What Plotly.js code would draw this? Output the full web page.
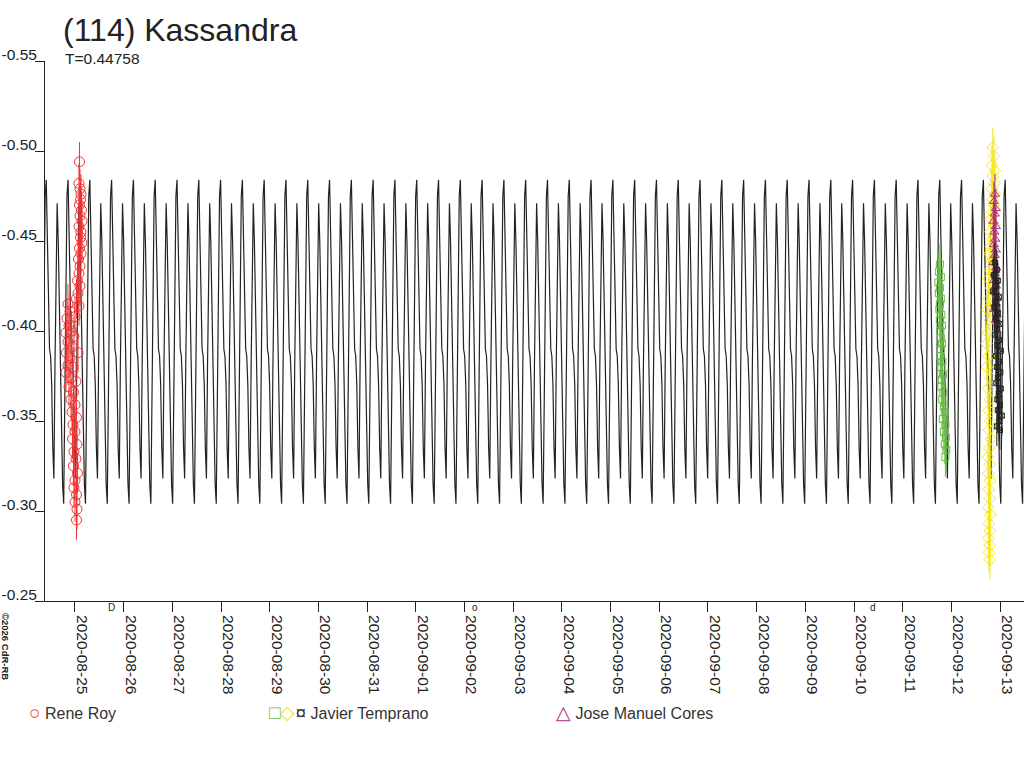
<!doctype html>
<html lang="en">
<head>
    <meta charset="UTF-8">
    <title>(114) Kassandra</title>
    <script src="https://cdn.plot.ly/plotly-3.0.1.min.js"></script>
    <style>
        body { margin: 0; background: #fff; }
        #chart { width: 1024px; height: 768px; }
    </style>
</head>
<body>
    <div id="chart"></div>
    <script>
        // rotation period (days) and model light curve, one period
        const T = 0.44758;
        const modelEpoch = 6.571;   // days after 2020-08-25 0h UT, primary maximum
        const profilePhase = [0, 0.05, 0.10, 0.15, 0.20, 0.25, 0.30, 0.35, 0.40, 0.45,
                              0.50, 0.55, 0.60, 0.65, 0.70, 0.75, 0.80, 0.85, 0.90, 0.95];
        const profileMag = [-0.484, -0.455, -0.410, -0.390, -0.386, -0.370, -0.335, -0.318, -0.380, -0.440,
                            -0.471, -0.450, -0.410, -0.375, -0.340, -0.315, -0.304, -0.360, -0.430, -0.475];

        // observations: days after 2020-08-25 0h UT, relative magnitude
        const rrDay = [0.092, 0.082, 0.103, 0.123, 0.113, 0.092, 0.133, 0.103, 0.144, 0.082,
                       0.123, 0.113, 0.144, 0.092, 0.123, 0.072, 0.103, 0.082, 0.051, 0.103,
                       0.062, 0.031, 0.082, -0.144, -0.103, -0.164, 0.000, -0.123, -0.072, -0.185,
                       -0.021, -0.144, -0.062, -0.175, 0.062, -0.103, -0.144, -0.041, -0.185, -0.082,
                       0.021, -0.123, -0.031, -0.082, 0.000, -0.062, 0.031, -0.041, 0.000, -0.051,
                       0.041, -0.021, 0.021, -0.031, 0.051, 0.000, -0.021, 0.031, 0.000, 0.041, 0.031];
        const rrMag = [-0.494, -0.482, -0.479, -0.476, -0.473, -0.470, -0.467, -0.464, -0.461, -0.458,
                       -0.455, -0.452, -0.449, -0.446, -0.443, -0.440, -0.436, -0.432, -0.428, -0.425,
                       -0.421, -0.418, -0.414, -0.415, -0.411, -0.407, -0.408, -0.403, -0.400, -0.399,
                       -0.397, -0.394, -0.391, -0.388, -0.388, -0.385, -0.381, -0.380, -0.377, -0.374,
                       -0.372, -0.369, -0.366, -0.362, -0.359, -0.355, -0.352, -0.348, -0.344, -0.340,
                       -0.337, -0.333, -0.329, -0.325, -0.321, -0.317, -0.313, -0.309, -0.305, -0.301, -0.295];

        const jtGreenDay = [17.762, 17.741, 17.782, 17.731, 17.762, 17.741, 17.782, 17.762, 17.752, 17.793,
                            17.762, 17.803, 17.772, 17.782, 17.803, 17.782, 17.772, 17.813, 17.793, 17.823,
                            17.803, 17.793, 17.834, 17.813, 17.844, 17.864, 17.823, 17.875, 17.844, 17.885,
                            17.864, 17.895, 17.875];
        const jtGreenMag = [-0.437, -0.433, -0.430, -0.427, -0.424, -0.421, -0.418, -0.415, -0.412, -0.409,
                            -0.406, -0.403, -0.400, -0.396, -0.393, -0.390, -0.386, -0.383, -0.380, -0.376,
                            -0.373, -0.369, -0.366, -0.362, -0.358, -0.355, -0.351, -0.348, -0.344, -0.341,
                            -0.337, -0.334, -0.330];

        const jtYellowDay = [18.850, 18.871, 18.830, 18.891, 18.850, 18.881, 18.830, 18.891, 18.850, 18.871,
                             18.840, 18.809, 18.871, 18.799, 18.850, 18.809, 18.778, 18.830, 18.789, 18.758,
                             18.809, 18.768, 18.737, 18.789, 18.747, 18.717, 18.768, 18.727, 18.809, 18.747,
                             18.789, 18.758, 18.799, 18.768, 18.809, 18.778, 18.747, 18.789, 18.758, 18.799,
                             18.768, 18.789, 18.758, 18.799, 18.768, 18.789, 18.758, 18.789, 18.768, 18.789];
        const jtYellowMag = [-0.502, -0.497, -0.492, -0.489, -0.486, -0.482, -0.479, -0.476, -0.473, -0.470,
                             -0.466, -0.462, -0.459, -0.455, -0.451, -0.447, -0.443, -0.439, -0.434, -0.429,
                             -0.424, -0.418, -0.412, -0.406, -0.399, -0.393, -0.386, -0.380, -0.374, -0.368,
                             -0.362, -0.356, -0.350, -0.345, -0.340, -0.335, -0.330, -0.326, -0.321, -0.317,
                             -0.312, -0.307, -0.302, -0.298, -0.293, -0.289, -0.285, -0.281, -0.277, -0.273];

        const jtDarkDay = [18.891, 18.932, 18.871, 18.953, 18.912, 18.850, 18.973, 18.922, 18.881, 18.953,
                           18.912, 18.994, 18.932, 18.891, 18.973, 18.943, 19.014, 18.912, 18.973, 18.932,
                           19.004, 18.953, 18.922, 19.014, 18.973, 18.943, 18.994, 18.953, 19.035, 18.984,
                           18.932, 18.994];
        const jtDarkMag = [-0.438, -0.434, -0.431, -0.428, -0.425, -0.422, -0.419, -0.416, -0.413, -0.410,
                           -0.407, -0.404, -0.401, -0.398, -0.395, -0.392, -0.389, -0.386, -0.383, -0.380,
                           -0.377, -0.374, -0.371, -0.368, -0.365, -0.362, -0.359, -0.356, -0.353, -0.350,
                           -0.347, -0.345];

        const jmcDay = [18.891, 18.871, 18.912, 18.891, 18.860, 18.912, 18.881, 18.901, 18.871, 18.912,
                        18.891, 18.860, 18.922, 18.891, 18.871, 18.912, 18.891, 18.932, 18.901, 18.881,
                        18.932, 18.912];
        const jmcMag = [-0.476, -0.472, -0.468, -0.465, -0.461, -0.458, -0.455, -0.451, -0.448, -0.445,
                        -0.442, -0.438, -0.435, -0.432, -0.428, -0.425, -0.422, -0.418, -0.415, -0.412,
                        -0.409, -0.406];

        const xTickLabels = ['2020-08-25', '2020-08-26', '2020-08-27', '2020-08-28', '2020-08-29',
                             '2020-08-30', '2020-08-31', '2020-09-01', '2020-09-02', '2020-09-03',
                             '2020-09-04', '2020-09-05', '2020-09-06', '2020-09-07', '2020-09-08',
                             '2020-09-09', '2020-09-10', '2020-09-11', '2020-09-12', '2020-09-13'];
        const yTickVals = [-0.55, -0.50, -0.45, -0.40, -0.35, -0.30, -0.25];
        const yTickText = ['-0.55', '-0.50', '-0.45', '-0.40', '-0.35', '-0.30', '-0.25'];

        // moon phases (days after 2020-08-25 0h UT)
        const moonDay = [0.749, 8.224, 16.393];
        const moonGlyph = ['D', 'o', 'd'];

        const BASE = Date.UTC(2020, 7, 25);
        const DAY = 86400000;
        const toMs = d => BASE + d * DAY;

        const xStart = -0.62, xEnd = 19.5;

        // tile the one-period profile across the time range
        let modelX = [], modelY = [];
        let k0 = Math.floor((xStart - modelEpoch) / T) - 1;
        let k1 = Math.ceil((xEnd - modelEpoch) / T) + 1;
        for (let k = k0; k <= k1; k++) {
            for (let i = 0; i < profilePhase.length; i++) {
                let d = modelEpoch + (k + profilePhase[i]) * T;
                if (d < xStart - 0.05 || d > xEnd + 0.05) continue;
                modelX.push(toMs(d));
                modelY.push(profileMag[i]);
            }
        }

        function obsTrace(days, mags, symbol, color, size) {
            return {
                x: days.map(toMs), y: mags, mode: 'markers', type: 'scatter',
                marker: { symbol: symbol, size: size, color: color, line: { color: color, width: 1 } },
                error_y: { type: 'constant', value: 0.011, color: color, thickness: 1, width: 0 },
                showlegend: false, hoverinfo: 'x+y'
            };
        }

        var traces = [
            { x: modelX, y: modelY, mode: 'lines', type: 'scatter',
              line: { color: '#222', width: 1.2 }, showlegend: false, hoverinfo: 'skip' },
            obsTrace(rrDay, rrMag, 'circle-open', '#ee3333', 10),
            obsTrace(jtGreenDay, jtGreenMag, 'square-open', '#66bb44', 7),
            obsTrace(jtYellowDay, jtYellowMag, 'diamond-open', '#f2e61a', 9),
            obsTrace(jmcDay, jmcMag, 'triangle-up-open', '#b0307e', 8),
            obsTrace(jtDarkDay, jtDarkMag, 'square-x-open', '#222', 5)
        ];

        const PL = 45, PT = 61, PW = 979, PH = 540;
        const px = x => (x - PL) / PW;
        const py = y => (PT + PH - y) / PH;

        const glyph = (c, g) => '<span style="color:' + c + ';font-size:19px">' + g + '</span>';

        var annotations = [
            { text: 'T=0.44758', xref: 'paper', yref: 'paper', x: px(63), y: py(58),
              xanchor: 'left', yanchor: 'middle', showarrow: false, font: { size: 15.5, color: '#222' } },
            { text: '<b>©2026 CdR-RB</b>', xref: 'paper', yref: 'paper', x: px(6), y: py(646),
              xanchor: 'center', yanchor: 'middle', textangle: 90, showarrow: false,
              font: { size: 9.5, color: '#222' } },
            { text: glyph('#ee3333', '○') + ' Rene Roy', xref: 'paper', yref: 'paper',
              x: px(27), y: py(712), xanchor: 'left', yanchor: 'middle', showarrow: false,
              font: { size: 16, color: '#333' } },
            { text: glyph('#66bb44', '□') + glyph('#f2e61a', '◇') + glyph('#333', '¤') + ' Javier Temprano',
              xref: 'paper', yref: 'paper', x: px(267), y: py(712), xanchor: 'left', yanchor: 'middle',
              showarrow: false, font: { size: 16, color: '#333' } },
            { text: glyph('#b0307e', '△') + ' Jose Manuel Cores', xref: 'paper', yref: 'paper',
              x: px(554), y: py(712), xanchor: 'left', yanchor: 'middle', showarrow: false,
              font: { size: 16, color: '#333' } }
        ];
        moonDay.forEach((d, i) => {
            annotations.push({ text: moonGlyph[i], xref: 'x', yref: 'paper', x: toMs(d), y: py(607),
                xanchor: 'center', yanchor: 'middle', showarrow: false, font: { size: 10, color: '#222' } });
        });

        var layout = {
            width: 1024, height: 768,
            margin: { l: PL, r: 0, t: PT, b: 768 - PT - PH, pad: 0 },
            paper_bgcolor: '#fff', plot_bgcolor: '#fff',
            font: { family: '"Liberation Sans", Arial, sans-serif', size: 14, color: '#222' },
            title: { text: '(114) Kassandra', xref: 'container', yref: 'container',
                     x: 63 / 1024, xanchor: 'left', y: 1 - 30 / 768, yanchor: 'middle',
                     font: { size: 32, color: '#222' } },
            showlegend: false,
            xaxis: {
                type: 'date', range: [toMs(-0.616), toMs(19.49)],
                tickmode: 'array', tickvals: xTickLabels, ticktext: xTickLabels,
                tickangle: 90, ticks: 'outside', ticklen: 10, tickcolor: '#222',
                ticklabelshift: 7,
                showline: true, linecolor: '#222', linewidth: 1,
                showgrid: false, zeroline: false, automargin: false,
                tickfont: { size: 15.5, color: '#222' }
            },
            yaxis: {
                range: [-0.25, -0.55],
                tickmode: 'array', tickvals: yTickVals, ticktext: yTickText,
                ticks: 'outside', ticklen: 9, tickcolor: '#222',
                ticklabelshift: 6, ticklabelstandoff: -5,
                showline: true, linecolor: '#222', linewidth: 1,
                showgrid: false, zeroline: false, automargin: false,
                tickfont: { size: 15.5, color: '#222' }
            },
            annotations: annotations
        };

        Plotly.newPlot('chart', traces, layout, { staticPlot: true });
    </script>
</body>
</html>
